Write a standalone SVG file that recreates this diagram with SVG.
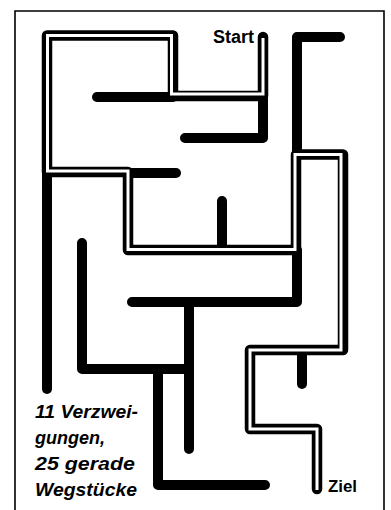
<svg xmlns="http://www.w3.org/2000/svg" width="391" height="510" viewBox="0 0 391 510">
<style>
.w{fill:none;stroke:#000;stroke-width:10;stroke-linecap:round;stroke-linejoin:round}
.p{fill:none;stroke:#000;stroke-width:10.5;stroke-linecap:round;stroke-linejoin:round}
.pw{fill:none;stroke:#fff;stroke-width:3;stroke-linecap:butt;stroke-linejoin:miter}
.t{font-family:"Liberation Sans",Arial,sans-serif;font-weight:bold;fill:#000}
.ti{font-family:"Liberation Sans",Arial,sans-serif;font-weight:bold;font-style:italic;fill:#000;font-size:17.5px}
</style>
<rect x="0" y="0" width="391" height="510" fill="#fff"/>
<path d="M15,520 V11 H384 V520" fill="none" stroke="#000" stroke-width="1.6"/>
<g id="walls">
<path class="w" d="M97,97 H173"/>
<path class="w" d="M263,96 V138 H185"/>
<path class="w" d="M340,37 H297 V154"/>
<path class="w" d="M47,172 V389"/>
<path class="w" d="M128,173 H176"/>
<path class="w" d="M222,201 V250"/>
<path class="w" d="M297,250 V302 H132"/>
<path class="w" d="M189,302 V449"/>
<path class="w" d="M82,243 V369 H189"/>
<path class="w" d="M158,369 V485 H265"/>
<path class="w" d="M302,350 V384"/>
</g>
<g id="solution">
<path class="p" d="M263,37 V96 H173 V35.5 H47 V172 H128 V250 H296 V154.5 H343 V350 H250 V429 H317 V489"/>
<path class="pw" d="M263,38 V94 H171.5 V35.5 H47.5 V171 H128 V249.5 H295 V154.5 H341 V350 H250 V429 H317 V490"/>
</g>
<g id="labels">
<text class="t" x="213" y="43" font-size="18">Start</text>
<text class="t" x="328" y="492" font-size="16" textLength="29" lengthAdjust="spacingAndGlyphs">Ziel</text>
<text class="ti" x="35" y="418" textLength="103" lengthAdjust="spacingAndGlyphs">11 Verzwei-</text>
<text class="ti" x="35" y="444" textLength="70" lengthAdjust="spacingAndGlyphs">gungen,</text>
<text class="ti" x="35" y="470" textLength="100" lengthAdjust="spacingAndGlyphs">25 gerade</text>
<text class="ti" x="35" y="496" textLength="102" lengthAdjust="spacingAndGlyphs">Wegstücke</text>
</g>
</svg>
